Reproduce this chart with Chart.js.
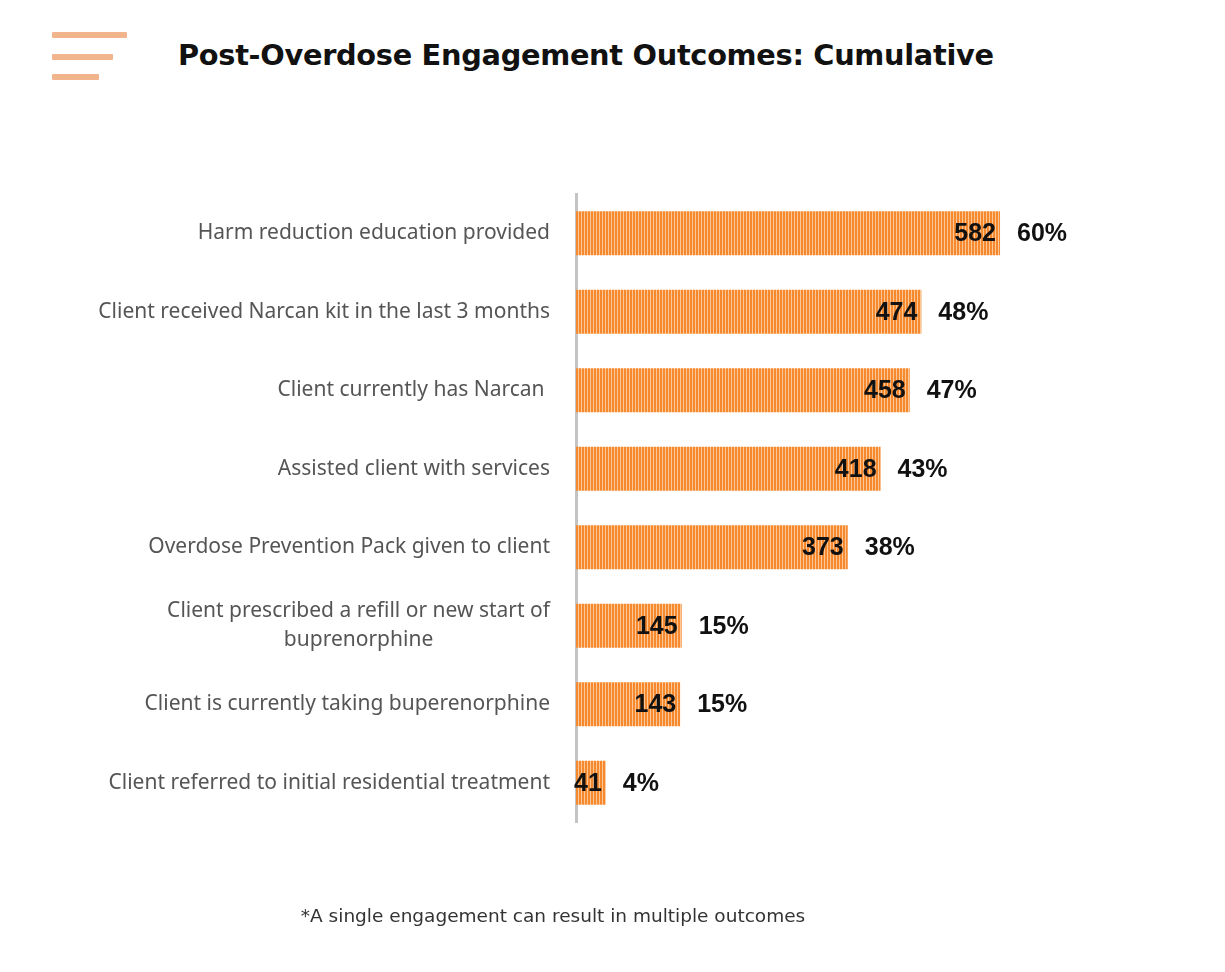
<!DOCTYPE html>
<html>
<head>
<meta charset="utf-8">
<script src="https://cdn.jsdelivr.net/npm/chart.js@4.4.1/dist/chart.umd.min.js"></script>
<style>
html,body{margin:0;padding:0;background:#fff;}
#wrap{position:relative;width:1225px;height:972px;overflow:hidden;}
#chart-box{position:absolute;left:0;top:0;width:1225px;height:972px;}
.bar-icon{position:absolute;left:52px;height:6px;background:#f1b48c;border-radius:1px;}
#title{position:absolute;left:178px;top:38px;font-family:"DejaVu Sans",sans-serif;font-weight:bold;font-size:28.8px;color:#111;letter-spacing:-0.3px;white-space:nowrap;}
#note{position:absolute;left:0;width:1106px;top:905px;text-align:center;font-family:"DejaVu Sans",sans-serif;font-size:18.5px;color:#333;}
</style>
</head>
<body>
<div id="wrap">
  <div class="bar-icon" style="top:32px;width:75px"></div>
  <div class="bar-icon" style="top:54px;width:61px"></div>
  <div class="bar-icon" style="top:74px;width:47px"></div>
  <div id="title">Post-Overdose Engagement Outcomes: Cumulative</div>
  <div id="chart-box"><canvas id="c"></canvas></div>
  <div id="note">*A single engagement can result in multiple outcomes</div>
</div>
<script>
/* ══ DATA ══ */
const outcomeLabels=[
  'Harm reduction education provided',
  'Client received Narcan kit in the last 3 months',
  'Client currently has Narcan ',
  'Assisted client with services',
  'Overdose Prevention Pack given to client',
  ['Client prescribed a refill or new start of','buprenorphine'],
  'Client is currently taking buperenorphine',
  'Client referred to initial residential treatment'
];
const outcomeCounts=[582,474,458,418,373,145,143,41];
const outcomePcts=['60%','48%','47%','43%','38%','15%','15%','4%'];

// striped fill like the original
function stripePattern(){
  const cv=document.createElement('canvas');cv.width=3;cv.height=4;
  const g=cv.getContext('2d');
  g.fillStyle='#fbc797';g.fillRect(0,0,3,4);
  g.fillStyle='#f6892e';g.fillRect(0,0,2,4);
  return g.createPattern(cv,'repeat');
}

// category labels: right aligned, wrapped ones centred on their widest line
const catLabels={
  id:'catLabels',
  afterDraw(chart){
    const ctx=chart.ctx,ys=chart.scales.y,right=550,lh=29;
    ctx.save();
    ctx.font='21px "Noto Sans",sans-serif';
    ctx.fillStyle='#555';ctx.textBaseline='middle';
    chart.data.labels.forEach((lab,i)=>{
      const y=ys.getPixelForTick(i);
      const lines=Array.isArray(lab)?lab:[lab];
      if(lines.length===1){ctx.textAlign='right';ctx.fillText(lines[0],right,y);return;}
      const w=Math.max(...lines.map(l=>ctx.measureText(l).width));
      ctx.textAlign='center';
      lines.forEach((l,k)=>ctx.fillText(l,right-w/2,y+(k-(lines.length-1)/2)*lh));
    });
    ctx.restore();
  }
};

const valueLabels={
  id:'valueLabels',
  afterDatasetsDraw(chart){
    const ctx=chart.ctx;const meta=chart.getDatasetMeta(0);
    ctx.save();
    ctx.textBaseline='middle';
    ctx.fillStyle='#111';
    ctx.font='bold 25px "Liberation Sans",sans-serif';
    meta.data.forEach((bar,i)=>{
      ctx.textAlign='right';
      ctx.fillText(outcomeCounts[i],bar.x-4,bar.y+1);
      ctx.textAlign='left';
      ctx.fillText(outcomePcts[i],bar.x+17,bar.y+1);
    });
    ctx.restore();
  }
};

new Chart(document.getElementById('c'),{
  type:'bar',
  data:{labels:outcomeLabels,datasets:[{data:outcomeCounts,backgroundColor:stripePattern(),borderWidth:0,barPercentage:0.56,categoryPercentage:1}]},
  options:{
    indexAxis:'y',responsive:true,maintainAspectRatio:false,animation:false,
    layout:{padding:{top:194,bottom:150,left:0,right:139}},
    plugins:{legend:{display:false},tooltip:{enabled:false}},
    scales:{
      x:{display:false,min:0,max:700},
      y:{
        afterFit(s){s.width=576;},
        grid:{display:false},
        border:{display:true,color:'#c4c4c4',width:3},
        ticks:{display:false}
      }
    }
  },
  plugins:[valueLabels,catLabels]
});
</script>
</body>
</html>
